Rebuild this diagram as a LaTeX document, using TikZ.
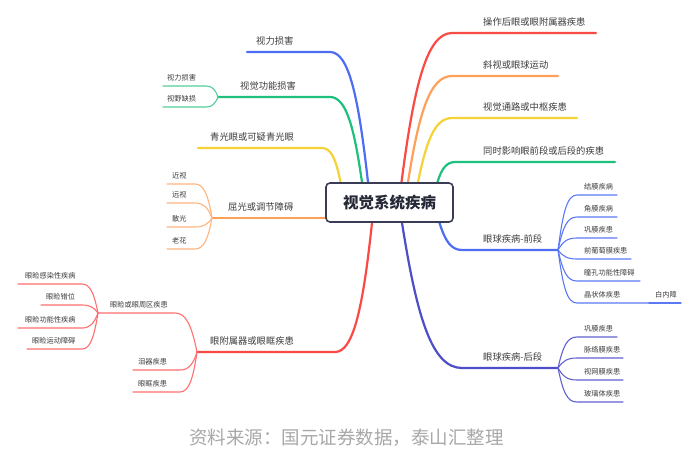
\documentclass[tikz,border=0pt]{standalone}
\usepackage{fontspec}
\setmainfont{Noto Sans CJK SC}
\usepackage{tikz}
\usetikzlibrary{backgrounds}
\definecolor{rootline}{HTML}{3A3C55}
\definecolor{roottext}{HTML}{262838}
\definecolor{labelgray}{HTML}{3C3C3C}
\definecolor{captiongray}{HTML}{A8A8A8}
\definecolor{branchred}{HTML}{FA4A45}
\definecolor{branchorange}{HTML}{FFA05A}
\definecolor{branchyellow}{HTML}{F5D236}
\definecolor{branchgreen}{HTML}{1EC07E}
\definecolor{branchblue}{HTML}{4D6DF5}
\definecolor{branchindigo}{HTML}{4E4EC8}
\definecolor{leafred}{HTML}{FF6F6F}
\definecolor{leaforange}{HTML}{FFB47F}
\definecolor{leafgreen}{HTML}{52CF98}
\definecolor{leafblue}{HTML}{5B78F5}
\definecolor{leafindigo}{HTML}{6262D0}
\tikzset{
  root/.style={draw=rootline, line width=1.6pt, rounded corners=4pt, fill=white, minimum width=127pt, minimum height=39pt, font=\fontsize{15.5}{17}\selectfont\bfseries, text=roottext},
  lvlone/.style={font=\fontsize{9.3}{11}\selectfont, text=labelgray, inner sep=0pt, anchor=base west},
  lvltwo/.style={font=\fontsize{7.2}{9}\selectfont, text=labelgray, inner sep=0pt, anchor=base west},
  trunk/.style={line width=2.2pt, line cap=round},
  twig/.style={line width=1.1pt, line cap=round},
  source/.style={font=\fontsize{18.5}{20}\selectfont, text=captiongray}
}

\begin{document}
\begin{tikzpicture}[x=1pt, y=-1pt]
  \useasboundingbox (0,0) rectangle (696,456);
  \node[root] (root) at (389.5,202.5) {视觉系统疾病};

  \coordinate (opr-t) at (452,33);   \coordinate (opr-e) at (596,33);
  \coordinate (xie-t) at (452,76);   \coordinate (xie-e) at (558,76);
  \coordinate (tong-t) at (452,118); \coordinate (tong-e) at (577,118);
  \coordinate (tsh-t) at (455,162);  \coordinate (tsh-e) at (615,162);
  \coordinate (qian-t) at (462,250); \coordinate (qian-f) at (558,250);
  \coordinate (hou-t) at (462,368);  \coordinate (hou-f) at (558,368);
  \node[lvlone] (opr) at (483,25) {操作后眼或眼附属器疾患};
  \node[lvlone] (xie) at (483,68) {斜视或眼球运动};
  \node[lvlone] (tong) at (483,110) {视觉通路或中枢疾患};
  \node[lvlone] (tsh) at (483,154) {同时影响眼前段或后段的疾患};
  \node[lvlone] (qian) at (483,242) {眼球疾病-前段};
  \node[lvlone] (hou) at (483,360) {眼球疾病-后段};

  \coordinate (shili-t) at (330,52); \coordinate (shili-e) at (247,52);
  \coordinate (gong-t) at (330,97);  \coordinate (gong-f) at (218,97);
  \coordinate (qgy-t) at (322,148);  \coordinate (qgy-e) at (198,148);
  \coordinate (qg-f) at (212,218);
  \coordinate (fs-t) at (335,352);   \coordinate (fs-f) at (197,352);
  \node[lvlone] (shili) at (256,44) {视力损害};
  \node[lvlone] (gong) at (240,89) {视觉功能损害};
  \node[lvlone] (qgy) at (210,140) {青光眼或可疑青光眼};
  \node[lvlone] (qg) at (228,210) {屈光或调节障碍};
  \node[lvlone] (fs) at (210,344) {眼附属器或眼眶疾患};

  \coordinate (gc1-t) at (206,86);  \coordinate (gc1-e) at (163,86);
  \coordinate (gc2-t) at (206,107); \coordinate (gc2-e) at (163,107);
  \node[lvltwo] (gc1) at (167,80) {视力损害};
  \node[lvltwo] (gc2) at (167,101) {视野缺损};

  \coordinate (qc1-t) at (195,184); \coordinate (qc1-e) at (167,184);
  \coordinate (qc2-t) at (195,203); \coordinate (qc2-e) at (167,203);
  \coordinate (qc3-t) at (195,227); \coordinate (qc3-e) at (167,227);
  \coordinate (qc4-t) at (195,249); \coordinate (qc4-e) at (167,249);
  \node[lvltwo] (qc1) at (172,178) {近视};
  \node[lvltwo] (qc2) at (172,197) {远视};
  \node[lvltwo] (qc3) at (172,221) {散光};
  \node[lvltwo] (qc4) at (172,243) {老花};

  \coordinate (ylq-t) at (175,313); \coordinate (ylq-f) at (98,313);
  \coordinate (lq-t) at (180,370);  \coordinate (lq-e) at (133,370);
  \coordinate (yk-t) at (180,392);  \coordinate (yk-e) at (133,392);
  \node[lvltwo] (ylq) at (110,307) {眼睑或眼周区疾患};
  \node[lvltwo] (lq) at (138,364) {泪器疾患};
  \node[lvltwo] (yk) at (138,386) {眼眶疾患};

  \coordinate (yj1-t) at (82,284); \coordinate (yj1-e) at (18,284);
  \coordinate (yj2-t) at (82,305); \coordinate (yj2-e) at (41,305);
  \coordinate (yj3-t) at (82,328); \coordinate (yj3-e) at (18,328);
  \coordinate (yj4-t) at (82,349); \coordinate (yj4-e) at (27,349);
  \node[lvltwo] (yj1) at (25,278) {眼睑感染性疾病};
  \node[lvltwo] (yj2) at (46,299) {眼睑错位};
  \node[lvltwo] (yj3) at (25,322) {眼睑功能性疾病};
  \node[lvltwo] (yj4) at (32,343) {眼睑运动障碍};

  \coordinate (qd1-t) at (577,195); \coordinate (qd1-e) at (617,195);
  \coordinate (qd2-t) at (577,217); \coordinate (qd2-e) at (617,217);
  \coordinate (qd3-t) at (577,238); \coordinate (qd3-e) at (617,238);
  \coordinate (qd4-t) at (577,259); \coordinate (qd4-e) at (631,259);
  \coordinate (qd5-t) at (577,281); \coordinate (qd5-e) at (640,281);
  \coordinate (qd6-t) at (577,303); \coordinate (qd6-e) at (649,303);
  \coordinate (nz-e) at (681,303);
  \node[lvltwo] (qd1) at (584,189) {结膜疾病};
  \node[lvltwo] (qd2) at (584,211) {角膜疾病};
  \node[lvltwo] (qd3) at (584,232) {巩膜疾患};
  \node[lvltwo] (qd4) at (584,253) {前葡萄膜疾患};
  \node[lvltwo] (qd5) at (584,275) {瞳孔功能性障碍};
  \node[lvltwo] (qd6) at (584,297) {晶状体疾患};
  \node[lvltwo] (nz) at (655,297) {白内障};

  \coordinate (hd1-t) at (577,337); \coordinate (hd1-e) at (617,337);
  \coordinate (hd2-t) at (577,358); \coordinate (hd2-e) at (623,358);
  \coordinate (hd3-t) at (577,380); \coordinate (hd3-e) at (623,380);
  \coordinate (hd4-t) at (577,402); \coordinate (hd4-e) at (623,402);
  \node[lvltwo] (hd1) at (584,331) {巩膜疾患};
  \node[lvltwo] (hd2) at (584,352) {脉络膜疾患};
  \node[lvltwo] (hd3) at (584,374) {视网膜疾患};
  \node[lvltwo] (hd4) at (584,396) {玻璃体疾患};

  \node[source] (src) at (346.5,438) {资料来源：国元证券数据，泰山汇整理};

  \begin{scope}[on background layer]
    \fill[white] (0,0) rectangle (696,456);
    \draw[trunk, branchred] ([xshift=12pt]root.north) .. controls +(12.6,-97.5) and +(-25,0) .. (opr-t) -- (opr-e);
    \draw[trunk, branchorange] ([xshift=18.5pt]root.north) .. controls +(11,-70) and +(-22,0) .. (xie-t) -- (xie-e);
    \draw[trunk, branchyellow] ([xshift=28.5pt]root.north) .. controls +(8.5,-42) and +(-17,0) .. (tong-t) -- (tong-e);
    \draw[trunk, branchgreen] ([xshift=48pt]root.north) .. controls +(4,-14) and +(-8,0) .. (tsh-t) -- (tsh-e);
    \draw[trunk, branchblue] ([xshift=50pt]root.south) .. controls +(5.6,18) and +(-11,0) .. (qian-t) -- (qian-f);
    \draw[trunk, branchindigo] ([xshift=12.5pt]root.south) .. controls +(15,95) and +(-30,0) .. (hou-t) -- (hou-f);

    \draw[trunk, branchblue] ([xshift=-21.5pt]root.north) .. controls +(-9.5,-85) and +(19,0) .. (shili-t) -- (shili-e);
    \draw[trunk, branchgreen] ([xshift=-27.5pt]root.north) .. controls +(-8,-56) and +(16,0) .. (gong-t) -- (gong-f);
    \draw[trunk, branchyellow] ([xshift=-49pt]root.north) .. controls +(-4.5,-23) and +(9,0) .. (qgy-t) -- (qgy-e);
    \draw[trunk, branchorange] (root.west |- qg-f) -- (qg-f);
    \draw[trunk, branchred] ([xshift=-17.5pt]root.south) .. controls +(-9,84.5) and +(18.5,0) .. (fs-t) -- (fs-f);

    \draw[twig, leafgreen] (gong-f) .. controls +(-3,-8) and +(6,0) .. (gc1-t) -- (gc1-e);
    \draw[twig, leafgreen] (gong-f) .. controls +(-3,7) and +(6,0) .. (gc2-t) -- (gc2-e);

    \draw[twig, leaforange] (qg-f) .. controls +(-4,-24) and +(8.5,0) .. (qc1-t) -- (qc1-e);
    \draw[twig, leaforange] (qg-f) .. controls +(-4,-10.5) and +(8.5,0) .. (qc2-t) -- (qc2-e);
    \draw[twig, leaforange] (qg-f) .. controls +(-4,6.3) and +(8.5,0) .. (qc3-t) -- (qc3-e);
    \draw[twig, leaforange] (qg-f) .. controls +(-4,21.7) and +(8.5,0) .. (qc4-t) -- (qc4-e);

    \draw[twig, leafred] (fs-f) .. controls +(-5.5,-27) and +(11,0) .. (ylq-t) -- (ylq-f);
    \draw[twig, leafred] (fs-f) .. controls +(-4,12.6) and +(8.5,0) .. (lq-t) -- (lq-e);
    \draw[twig, leafred] (fs-f) .. controls +(-4,28) and +(8.5,0) .. (yk-t) -- (yk-e);
    \draw[twig, leafred] (ylq-f) .. controls +(-4,-20) and +(8,0) .. (yj1-t) -- (yj1-e);
    \draw[twig, leafred] (ylq-f) .. controls +(-4,-5.6) and +(8,0) .. (yj2-t) -- (yj2-e);
    \draw[twig, leafred] (ylq-f) .. controls +(-4,10.5) and +(8,0) .. (yj3-t) -- (yj3-e);
    \draw[twig, leafred] (ylq-f) .. controls +(-4,25) and +(8,0) .. (yj4-t) -- (yj4-e);

    \draw[twig, leafblue] (qian-f) .. controls +(5,-38) and +(-10,0) .. (qd1-t) -- (qd1-e);
    \draw[twig, leafblue] (qian-f) .. controls +(5,-23) and +(-10,0) .. (qd2-t) -- (qd2-e);
    \draw[twig, leafblue] (qian-f) .. controls +(5,-8.4) and +(-10,0) .. (qd3-t) -- (qd3-e);
    \draw[twig, leafblue] (qian-f) .. controls +(5,6.3) and +(-10,0) .. (qd4-t) -- (qd4-e);
    \draw[twig, leafblue] (qian-f) .. controls +(5,21.7) and +(-10,0) .. (qd5-t) -- (qd5-e);
    \draw[twig, leafblue] (qian-f) .. controls +(5,37) and +(-10,0) .. (qd6-t) -- (qd6-e);
    \draw[twig, leafblue] (qd6-e) -- (nz-e);

    \draw[twig, leafindigo] (hou-f) .. controls +(5,-21.7) and +(-10,0) .. (hd1-t) -- (hd1-e);
    \draw[twig, leafindigo] (hou-f) .. controls +(5,-7) and +(-10,0) .. (hd2-t) -- (hd2-e);
    \draw[twig, leafindigo] (hou-f) .. controls +(5,8.4) and +(-10,0) .. (hd3-t) -- (hd3-e);
    \draw[twig, leafindigo] (hou-f) .. controls +(5,23.8) and +(-10,0) .. (hd4-t) -- (hd4-e);
  \end{scope}
\end{tikzpicture}
\end{document}
